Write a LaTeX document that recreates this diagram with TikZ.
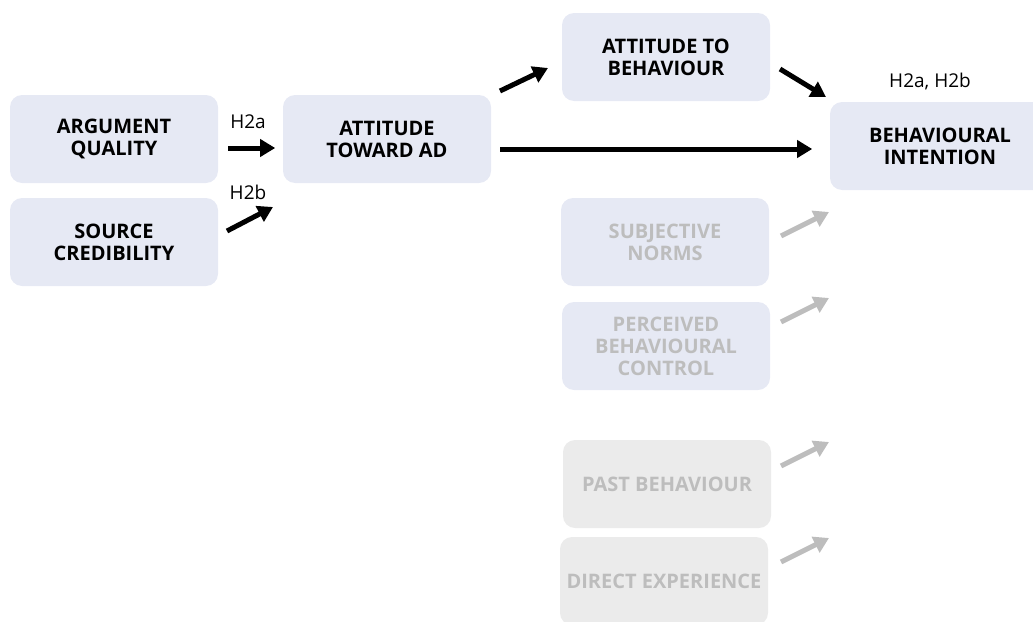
\documentclass[tikz,border=0pt]{standalone}
\usepackage{fontspec}
\setmainfont{Open Sans}
\usetikzlibrary{arrows.meta}
\definecolor{boxblue}{HTML}{E6E9F4}
\definecolor{boxgrey}{HTML}{EBEBEB}
\definecolor{fadedtext}{HTML}{BDBDBD}
\begin{document}
\begin{tikzpicture}[x=1pt,y=-1pt,
  box/.style={rounded corners=12pt, fill=boxblue, minimum width=208pt, minimum height=88pt,
    align=center, font=\fontsize{20}{22}\selectfont\bfseries, text=black, inner sep=0pt},
  faded/.style={box, text=fadedtext},
  fadedgrey/.style={faded, fill=boxgrey},
  link/.style={line width=5pt, -{Triangle[length=15pt,width=17pt]}},
  fadedlink/.style={link, draw=fadedtext},
  lbl/.style={font=\fontsize{19}{22}\selectfont, inner sep=0pt}]
\useasboundingbox (0,0) rectangle (1033,621);
\clip (0,0) rectangle (1033,621);

% boxes
\node[box] (aq)  at (114,139) {ARGUMENT\\QUALITY};
\node[box] (sc)  at (114,242) {SOURCE\\CREDIBILITY};
\node[box] (ata) at (387,139) {ATTITUDE\\TOWARD AD};
\node[box] (atb) at (666,57)  {ATTITUDE TO\\BEHAVIOUR};
\node[box, minimum width=220pt] (bi) at (940,146) {BEHAVIOURAL\\INTENTION};
\node[faded] (sn)  at (665,242) {SUBJECTIVE\\NORMS};
\node[faded] (pbc) at (666,346) {PERCEIVED\\BEHAVIOURAL\\CONTROL};
\node[fadedgrey] (pb) at (667,484) {PAST BEHAVIOUR};
\node[fadedgrey] (de) at (664,581) {DIRECT EXPERIENCE};

% labels
\node[lbl] (h2a) at (248,122) {H2a};
\node[lbl] (h2b) at (248,192) {H2b};
\node[lbl] (h2ab) at (930,82) {H2a, H2b};

% arrow end points
\coordinate (sc-s) at (227,231);  \coordinate (sc-e) at (273,207);
\coordinate (ata-s) at (500,91);  \coordinate (ata-e) at (548,68);
\coordinate (atb-s) at (780,69);  \coordinate (atb-e) at (826,97);
\coordinate (sn-s) at (781,236);  \coordinate (sn-e) at (829,212);
\coordinate (pbc-s) at (781,322); \coordinate (pbc-e) at (829,298);
\coordinate (pb-s) at (781,466);  \coordinate (pb-e) at (829,442);
\coordinate (de-s) at (781,562);  \coordinate (de-e) at (829,538);

% connectors
\draw[link] (aq.east) ++(10,9) -- ++(47,0);
\draw[link] (sc-s) -- (sc-e);
\draw[link] (ata-s) -- (ata-e);
\draw[link] (atb-s) -- (atb-e);
\draw[link] (ata.east) ++(9,10) -- ++(312,0);
\draw[fadedlink] (sn-s) -- (sn-e);
\draw[fadedlink] (pbc-s) -- (pbc-e);
\draw[fadedlink] (pb-s) -- (pb-e);
\draw[fadedlink] (de-s) -- (de-e);
\end{tikzpicture}
\end{document}
